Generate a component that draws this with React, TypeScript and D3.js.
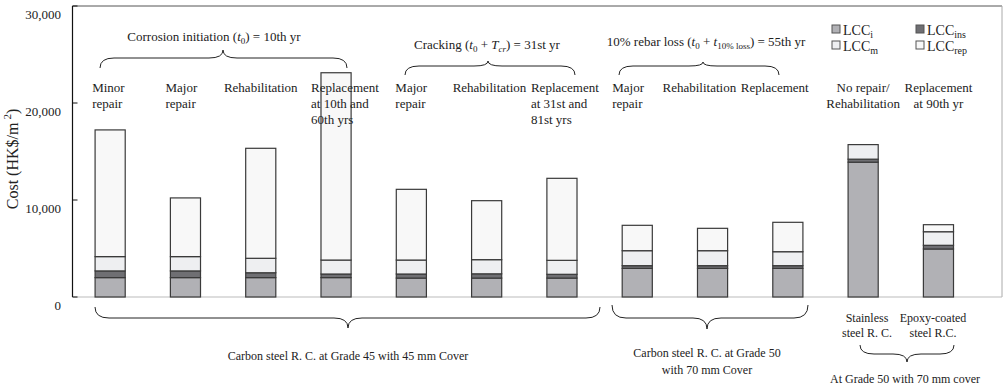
import React from "react";
import * as d3 from "d3";

const categories = [
  "c1", "c2", "c3", "c4", "c5", "c6", "c7", "c8", "c9", "c10", "c11", "c12",
];
const lccI = [2000, 2000, 2000, 2000, 1950, 1950, 1950, 2950, 2950, 2950, 13900, 4950];
const lccIns = [690, 690, 500, 370, 420, 440, 390, 280, 280, 280, 310, 380];
const lccM = [1475, 1475, 1490, 1440, 1440, 1460, 1440, 1545, 1545, 1440, 1500, 1400];
const lccRep = [13060, 6050, 11340, 19310, 7290, 6080, 8455, 2615, 2305, 3030, 0, 725];
const yTicks = [0, 10000, 20000, 30000];

const seriesKeys = ["i", "ins", "m", "rep"];
const seriesColors: Record<string, string> = {
  i: "#b1b1b5",
  ins: "#6f6f73",
  m: "#eeeff1",
  rep: "#f8f8f8",
};

const topLabels: string[][] = [
  ["Minor", "repair"],
  ["Major", "repair"],
  ["Rehabilitation"],
  ["Replacement", "at 10th and", "60th yrs"],
  ["Major", "repair"],
  ["Rehabilitation"],
  ["Replacement", "at 31st and", "81st yrs"],
  ["Major", "repair"],
  ["Rehabilitation"],
  ["Replacement"],
  ["No repair/", "Rehabilitation"],
  ["Replacement", "at 90th yr"],
];
// left x offset relative to band center (null => centered)
const labelOffsets: (number | null)[] = [-18, -20, null, -25, -16, -34, -31, -25, -50, -47, null, null];

const W = 1004;
const H = 390;
const left = 72.5;
const right = 1002;
const top = 6;
const bottom = 297;

function brace(x1: number, x2: number, xt: number, yEnd: number, yMid: number, yTip: number) {
  const q = 14;
  return [
    `M${x1},${yEnd}`,
    `Q${x1},${yMid} ${x1 + q},${yMid}`,
    `L${xt - q},${yMid}`,
    `Q${xt},${yMid} ${xt},${yTip}`,
    `Q${xt},${yMid} ${xt + q},${yMid}`,
    `L${x2 - q},${yMid}`,
    `Q${x2},${yMid} ${x2},${yEnd}`,
  ].join(" ");
}

export default function App() {
  const x = d3
    .scaleBand<string>()
    .domain(categories)
    .range([left, left + 75.3 * 12])
    .paddingInner(0.6)
    .paddingOuter(0.3);
  const y = d3.scaleLinear().domain([0, 30000]).range([bottom, top]);

  const rows = categories.map((c, i) => ({
    cat: c,
    i: lccI[i],
    ins: lccIns[i],
    m: lccM[i],
    rep: lccRep[i],
  }));
  const stacked = d3.stack<any>().keys(seriesKeys)(rows);

  const font = "'Liberation Serif', 'Times New Roman', serif";
  const tc = "#222";
  const cx = (i: number) => (x(categories[i]) as number) + x.bandwidth() / 2;

  return (
    <svg
      width={W}
      height={H}
      style={{ position: "absolute", left: 0, top: 0, background: "#fff" }}
      fontFamily={font}
    >
      {/* frame */}
      <line x1={left} x2={right} y1={top} y2={top} stroke="#555" strokeWidth={1} />
      <line x1={right} x2={right} y1={top} y2={bottom} stroke="#aaa" strokeWidth={1} />
      <line x1={left} x2={right} y1={bottom} y2={bottom} stroke="#bbb" strokeWidth={1.2} />

      {/* bars */}
      {stacked.map((s) =>
        s.map((d, j) =>
          d[1] - d[0] > 0 ? (
            <rect
              key={s.key + j}
              x={x(categories[j])}
              width={x.bandwidth()}
              y={y(d[1])}
              height={y(d[0]) - y(d[1])}
              fill={seriesColors[s.key]}
              stroke="#3a3a3a"
              strokeWidth={1.2}
            />
          ) : null
        )
      )}

      {/* y axis */}
      <line x1={left} x2={left} y1={top} y2={bottom} stroke="#111" strokeWidth={1.2} />
      {yTicks.map((t) => (
        <g key={t}>
          <line x1={left} x2={left + 5} y1={y(t)} y2={y(t)} stroke="#111" strokeWidth={1} />
          <text x={61} y={y(t) + 13} textAnchor="end" fontSize={13} fill={tc}>
            {d3.format(",")(t)}
          </text>
        </g>
      ))}
      <text
        transform={`translate(18,159) rotate(-90)`}
        textAnchor="middle"
        fontSize={16}
        fill={tc}
      >
        Cost (HK$/m
        <tspan dx={3} dy={-7} fontSize={11}>2</tspan>
        <tspan dy={7}>)</tspan>
      </text>

      {/* category labels */}
      {topLabels.map((lines, i) => {
        const off = labelOffsets[i];
        const anchor = off === null ? "middle" : "start";
        const lx = off === null ? cx(i) : cx(i) + off;
        return (
          <text key={i} fontSize={13} fill={tc} textAnchor={anchor}>
            {lines.map((l, k) => (
              <tspan key={k} x={lx} y={92 + k * 16}>
                {l}
              </tspan>
            ))}
          </text>
        );
      })}

      {/* headers */}
      <text x={214} y={41} textAnchor="middle" fontSize={13} fill={tc}>
        Corrosion initiation (<tspan fontStyle="italic">t</tspan>
        <tspan fontSize={9} dy={3}>0</tspan>
        <tspan dy={-3}>) = 10th yr</tspan>
      </text>
      <path d={brace(100, 347, 223, 68, 58, 50)} fill="none" stroke="#222" strokeWidth={1} />

      <text x={487} y={49} textAnchor="middle" fontSize={13} fill={tc}>
        Cracking (<tspan fontStyle="italic">t</tspan>
        <tspan fontSize={9} dy={3}>0</tspan>
        <tspan dy={-3}> + </tspan>
        <tspan fontStyle="italic">T</tspan>
        <tspan fontSize={9} dy={3} fontStyle="italic">cr</tspan>
        <tspan dy={-3}>) = 31st yr</tspan>
      </text>
      <path d={brace(405, 575, 488, 75, 66, 61)} fill="none" stroke="#222" strokeWidth={1} />

      <text x={706} y={46} textAnchor="middle" fontSize={13} fill={tc}>
        10% rebar loss (<tspan fontStyle="italic">t</tspan>
        <tspan fontSize={9} dy={3}>0</tspan>
        <tspan dy={-3}> + </tspan>
        <tspan fontStyle="italic">t</tspan>
        <tspan fontSize={9} dy={3}>10% loss</tspan>
        <tspan dy={-3}>) = 55th yr</tspan>
      </text>
      <path d={brace(619, 779, 703, 75, 66, 62)} fill="none" stroke="#222" strokeWidth={1} />

      {/* legend */}
      {[
        { k: "i", sub: "i", lx: 832, ly: 25 },
        { k: "m", sub: "m", lx: 832, ly: 41 },
        { k: "ins", sub: "ins", lx: 916, ly: 25 },
        { k: "rep", sub: "rep", lx: 916, ly: 41 },
      ].map((l) => (
        <g key={l.k}>
          <rect x={l.lx} y={l.ly} width={8} height={8} fill={seriesColors[l.k]} stroke="#555" strokeWidth={1} />
          <text x={l.lx + 11} y={l.ly + 10} fontSize={14} fill={tc}>
            LCC
            <tspan fontSize={10} dy={3}>{l.sub}</tspan>
          </text>
        </g>
      ))}

      {/* bottom braces and labels */}
      <path d={brace(95, 600, 348, 307, 318, 328)} fill="none" stroke="#222" strokeWidth={1} />
      <text x={348} y={360} textAnchor="middle" fontSize={12} fill={tc}>
        Carbon steel R. C. at Grade 45 with 45 mm Cover
      </text>

      <path d={brace(612, 808, 707, 305, 318, 329)} fill="none" stroke="#222" strokeWidth={1} />
      <text x={707} y={357} textAnchor="middle" fontSize={12} fill={tc}>
        Carbon steel R. C. at Grade 50
      </text>
      <text x={707} y={374} textAnchor="middle" fontSize={12} fill={tc}>
        with 70 mm Cover
      </text>

      <text x={867} textAnchor="middle" fontSize={12} fill={tc}>
        <tspan x={867} y={322}>Stainless</tspan>
        <tspan x={867} y={337}>steel R. C.</tspan>
      </text>
      <text x={933} textAnchor="middle" fontSize={12} fill={tc}>
        <tspan x={933} y={322}>Epoxy-coated</tspan>
        <tspan x={933} y={337}>steel R.C.</tspan>
      </text>
      <path d={brace(860, 954, 907, 345, 354, 362)} fill="none" stroke="#222" strokeWidth={1} />
      <text x={905} y={383} textAnchor="middle" fontSize={12} fill={tc}>
        At Grade 50 with 70 mm cover
      </text>
    </svg>
  );
}
